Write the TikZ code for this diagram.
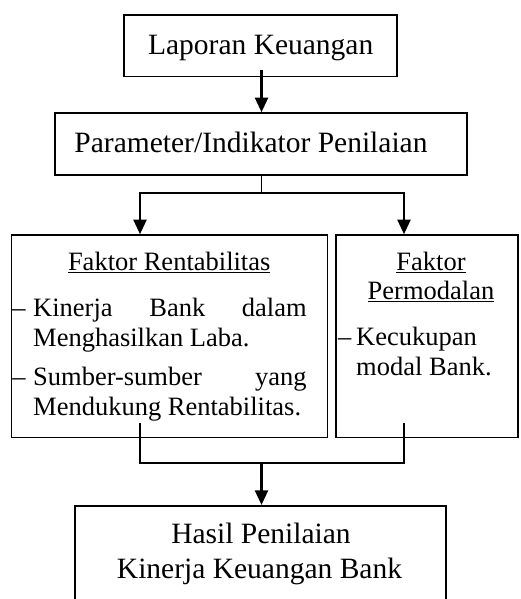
\documentclass[tikz,border=0pt]{standalone}
\usepackage{fontspec}
\setmainfont{Liberation Serif}
\usetikzlibrary{arrows.meta}
\newcommand{\ulbox}[1]{\setbox0\hbox{#1}\rlap{\rule[-3.4pt]{\wd0}{1.4pt}}\box0}
\tikzset{
  panel/.style={draw, line width=1.6pt, inner sep=0pt},
  arr/.style={line width=2.2pt, -{Triangle[width=13pt,length=14.5pt]}},
  stub/.style={line width=1.2pt},
  bar/.style={line width=2pt, line cap=rect},
  bigfont/.style={font=\fontsize{29.5}{35}\selectfont},
  smallfont/.style={font=\fontsize{26.5}{31}\selectfont},
  txt/.style={inner sep=0pt, anchor=base},
  txtl/.style={inner sep=0pt, anchor=base west}
}
\begin{document}
\begin{tikzpicture}[x=1pt, y=-1pt]
  \useasboundingbox (0,0) rectangle (520,599);

  \node[panel, minimum width=273pt, minimum height=61.7pt] (lap) at (260.5,45.85) {};
  \node[panel, minimum width=412pt, minimum height=62pt] (param) at (261,144) {};
  \node[panel, minimum width=316pt, minimum height=202.3pt] (rent) at (169.5,336.15) {};
  \node[panel, minimum width=182.3pt, minimum height=202.3pt] (modal) at (426.85,336.15) {};
  \node[panel, minimum width=371pt, minimum height=110pt] (hasil) at (260.5,560.7) {};

  \node[txt, bigfont] (lapT) at (260.7,54.3) {Laporan Keuangan};
  \node[txt, bigfont] (paramT) at (251,152) {Parameter/Indikator Penilaian};

  \node[txt, smallfont] (rentT) at (169.2,270) {\ulbox{Faktor Rentabilitas}};
  \node[txtl, smallfont] (d1) at (12.3,316.7) {–};
  \node[txtl, smallfont] (kin1) at (33,316.7) {\makebox[273.5pt][s]{Kinerja Bank dalam}};
  \node[txtl, smallfont] (kin2) at (33,346.7) {Menghasilkan Laba.};
  \node[txtl, smallfont] (d2) at (12.3,385.5) {–};
  \node[txtl, smallfont] (sum1) at (33,385.5) {\makebox[273.5pt][s]{Sumber-sumber yang}};
  \node[txtl, smallfont] (sum2) at (33,415.7) {Mendukung Rentabilitas.};

  \node[txt, smallfont] (modT1) at (431,270) {\ulbox{Faktor}};
  \node[txt, smallfont] (modT2) at (431,299) {\ulbox{Permodalan}};
  \node[txtl, smallfont] (d3) at (338,345) {–};
  \node[txtl, smallfont] (kec1) at (356,345) {Kecukupan};
  \node[txtl, smallfont] (kec2) at (356,375.7) {modal Bank.};

  \node[txt, bigfont] (hasilT1) at (261,543) {Hasil Penilaian};
  \node[txt, bigfont] (hasilT2) at (259.5,578) {Kinerja Keuangan Bank};

  \coordinate (ltop) at (261.5,70);
  \coordinate (split) at (261.5,193);
  \coordinate (bl) at (140,193);
  \coordinate (br) at (404,193);
  \coordinate (rtop) at (140,423);
  \coordinate (mtop) at (404,423);
  \coordinate (join) at (261.5,463);

  \draw[arr] (ltop) -- (ltop |- param.north);
  \draw[stub] (split |- param.south) -- (split);
  \draw[bar] (bl) -- (br);
  \draw[arr] (bl) -- (bl |- rent.north);
  \draw[arr] (br) -- (br |- modal.north);

  \draw[stub] (rtop) -- (rtop |- join);
  \draw[stub] (mtop) -- (mtop |- join);
  \draw[bar] (rtop |- join) -- (mtop |- join);
  \draw[arr] (join) -- (join |- hasil.north);
\end{tikzpicture}
\end{document}
